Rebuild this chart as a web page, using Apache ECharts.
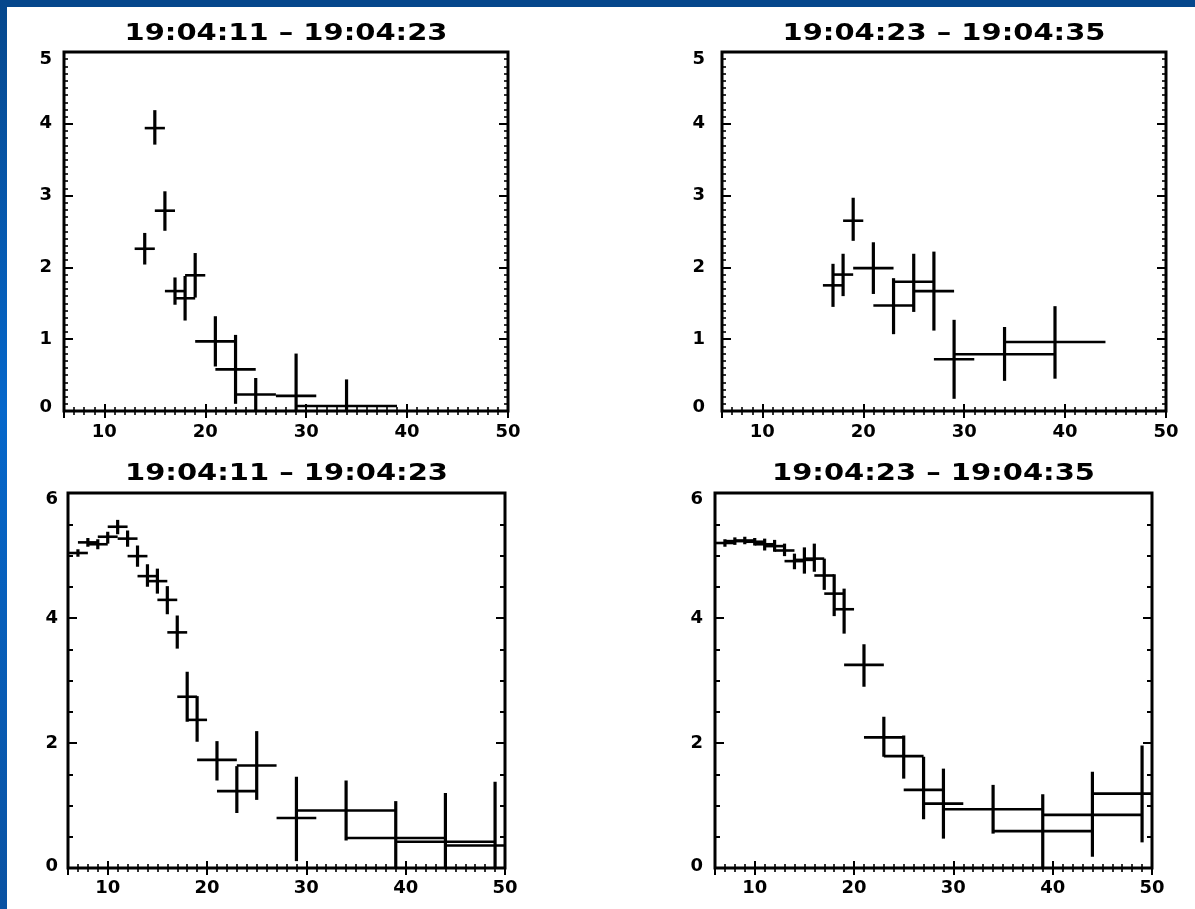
<!DOCTYPE html>
<html><head><meta charset="utf-8">
<script src="https://cdn.jsdelivr.net/npm/echarts@6/dist/echarts.min.js"></script>
<style>html,body{margin:0;padding:0;background:#fff}#c{width:1195px;height:909px}</style>
</head><body><div id="c"></div>
<script>
// ---- titles & ticks ----
const titles = ['19:04:11 – 19:04:23', '19:04:23 – 19:04:35', '19:04:11 – 19:04:23', '19:04:23 – 19:04:35'];
const xTickValues = [10, 20, 30, 40, 50];
const xRange = [6, 50];
const yRangeTop = [0, 5];
const yRangeBottom = [0, 6];

// ---- panel 1 (top left) ----
const p1X   = [14, 15, 16, 17, 18, 19, 21, 23, 25, 29, 34];
const p1Y   = [2.26, 3.94, 2.79, 1.67, 1.57, 1.89, 0.97, 0.58, 0.23, 0.21, 0.07];
const p1XLo = [13, 14, 15, 16, 17, 18, 19, 21, 23, 27, 29];
const p1XHi = [15, 16, 17, 18, 19, 20, 23, 25, 27, 31, 39];
const p1YLo = [2.04, 3.71, 2.51, 1.48, 1.26, 1.58, 0.62, 0.10, 0.00, -0.38, -0.30];
const p1YHi = [2.48, 4.19, 3.06, 1.86, 1.88, 2.20, 1.32, 1.06, 0.46, 0.80, 0.44];

// ---- panel 2 (top right) ----
const p2X   = [17, 18, 19, 21, 23, 25, 27, 29, 34, 39];
const p2Y   = [1.75, 1.90, 2.65, 1.99, 1.47, 1.80, 1.67, 0.72, 0.79, 0.96];
const p2XLo = [16, 17, 18, 19, 21, 23, 25, 27, 29, 34];
const p2XHi = [18, 19, 20, 23, 25, 27, 29, 31, 39, 44];
const p2YLo = [1.45, 1.60, 2.37, 1.63, 1.07, 1.38, 1.12, 0.17, 0.42, 0.45];
const p2YHi = [2.05, 2.19, 2.97, 2.35, 1.85, 2.19, 2.22, 1.27, 1.17, 1.46];

// ---- panel 3 (bottom left) ----
const p3X   = [7, 8, 9, 10, 11, 12, 13, 14, 15, 16, 17, 18, 19, 21, 23, 25, 29, 34, 39, 44, 49];
const p3Y   = [5.04, 5.21, 5.18, 5.30, 5.46, 5.27, 4.99, 4.67, 4.59, 4.29, 3.77, 2.74, 2.37, 1.73, 1.23, 1.64, 0.80, 0.92, 0.48, 0.42, 0.36];
const p3XLo = [6, 7, 8, 9, 10, 11, 12, 13, 14, 15, 16, 17, 18, 19, 21, 23, 27, 29, 34, 39, 44];
const p3XHi = [8, 9, 10, 11, 12, 13, 14, 15, 16, 17, 18, 19, 20, 23, 25, 27, 31, 39, 44, 49, 54];
const p3YLo = [4.98, 5.14, 5.10, 5.19, 5.34, 5.14, 4.82, 4.50, 4.39, 4.06, 3.51, 2.34, 2.02, 1.40, 0.88, 1.09, 0.11, 0.44, -0.11, -0.36, -0.66];
const p3YHi = [5.10, 5.28, 5.26, 5.38, 5.57, 5.40, 5.16, 4.86, 4.79, 4.51, 4.04, 3.14, 2.75, 2.03, 1.63, 2.19, 1.46, 1.40, 1.07, 1.20, 1.38];

// ---- panel 4 (bottom right) ----
const p4X   = [7, 8, 9, 10, 11, 12, 13, 14, 15, 16, 17, 18, 19, 21, 23, 25, 27, 29, 34, 39, 44, 49];
const p4Y   = [5.20, 5.23, 5.24, 5.22, 5.18, 5.15, 5.08, 4.91, 4.93, 4.95, 4.68, 4.39, 4.14, 3.25, 2.09, 1.79, 1.25, 1.03, 0.94, 0.59, 0.85, 1.19];
const p4XLo = [6, 7, 8, 9, 10, 11, 12, 13, 14, 15, 16, 17, 18, 19, 21, 23, 25, 27, 29, 34, 39, 44];
const p4XHi = [8, 9, 10, 11, 12, 13, 14, 15, 16, 17, 18, 19, 20, 23, 25, 27, 29, 31, 39, 44, 49, 54];
const p4YLo = [5.14, 5.17, 5.18, 5.16, 5.08, 5.06, 4.99, 4.78, 4.71, 4.74, 4.45, 4.03, 3.75, 2.90, 1.78, 1.43, 0.78, 0.47, 0.55, 0.00, 0.18, 0.41];
const p4YHi = [5.26, 5.29, 5.30, 5.28, 5.27, 5.25, 5.19, 5.03, 5.13, 5.19, 4.95, 4.70, 4.47, 3.58, 2.42, 2.12, 1.78, 1.59, 1.33, 1.18, 1.54, 1.96];

const panels = [
  {X: p1X, Y: p1Y, XLo: p1XLo, XHi: p1XHi, YLo: p1YLo, YHi: p1YHi},
  {X: p2X, Y: p2Y, XLo: p2XLo, XHi: p2XHi, YLo: p2YLo, YHi: p2YHi},
  {X: p3X, Y: p3Y, XLo: p3XLo, XHi: p3XHi, YLo: p3YLo, YHi: p3YHi},
  {X: p4X, Y: p4Y, XLo: p4XLo, XHi: p4XHi, YLo: p4YLo, YHi: p4YHi}
];

// layout (pixels)
const gridBoxes = [
  {left: 64, top: 52, width: 444, height: 359},
  {left: 722, top: 52, width: 444, height: 359},
  {left: 68, top: 493, width: 437, height: 375},
  {left: 715, top: 493, width: 437, height: 375}
];
const yLabelMargins = [12, 17, 10, 12];
const xLabelMargins = [12, 12, 11, 11];

const FONT = 'DejaVu Sans';
const labelFont = {color: '#000', fontFamily: FONT, fontWeight: 'bold', fontSize: 18};

const grids = [], xAxes = [], yAxes = [], series = [];
gridBoxes.forEach((g, i) => {
  const isTop = i < 2;
  const yr = isTop ? yRangeTop : yRangeBottom;
  grids.push(Object.assign({show: true, borderColor: '#000', borderWidth: 3, backgroundColor: 'transparent'}, g));
  const xCommon = {
    type: 'value', gridIndex: i, min: xRange[0], max: xRange[1], splitNumber: 5,
    axisLine: {show: false}, splitLine: {show: false},
    axisTick: {show: true, inside: true, length: 7, lineStyle: {color: '#000', width: 2}},
    minorTick: {show: true, splitNumber: 10, length: 4, lineStyle: {color: '#000', width: 1.6}}
  };
  xAxes.push(Object.assign({}, xCommon, {
    position: 'bottom',
    axisLabel: Object.assign({show: true, margin: xLabelMargins[i],
      formatter: v => xTickValues.includes(v) ? String(v) : ''}, labelFont)
  }));
  xAxes.push(Object.assign({}, xCommon, {position: 'top', axisLabel: {show: false}}));
  const yCommon = {
    type: 'value', gridIndex: i, min: yr[0], max: yr[1], splitNumber: isTop ? 5 : 3,
    axisLine: {show: false}, splitLine: {show: false},
    axisTick: {show: true, inside: true, length: 9, lineStyle: {color: '#000', width: 2}},
    minorTick: {show: true, splitNumber: isTop ? 10 : 4, length: isTop ? 4 : 5, lineStyle: {color: '#000', width: isTop ? 1.6 : 2}}
  };
  const padTop = isTop ? 14 : 12, padBot = isTop ? 7 : 4;
  yAxes.push(Object.assign({}, yCommon, {
    position: 'left',
    axisLabel: Object.assign({show: true, margin: yLabelMargins[i],
      formatter: v => v === yr[1] ? '{t|' + v + '}' : (v === yr[0] ? '{b|' + v + '}' : String(v)),
      rich: {
        t: Object.assign({padding: [padTop, 0, 0, 0]}, labelFont),
        b: Object.assign({padding: [0, 0, padBot, 0]}, labelFont)
      }}, labelFont)
  }));
  yAxes.push(Object.assign({}, yCommon, {position: 'right', axisLabel: {show: false}}));

  const p = panels[i];
  series.push({
    type: 'custom', xAxisIndex: 2 * i, yAxisIndex: 2 * i, clip: true, silent: true,
    data: p.X.map((x, k) => [x, p.Y[k], p.XLo[k], p.XHi[k], p.YLo[k], p.YHi[k]]),
    encode: {x: 0, y: 1},
    renderItem: (params, api) => {
      const x = api.value(0), y = api.value(1);
      const a = api.coord([api.value(2), y]);
      const b = api.coord([api.value(3), y]);
      const c = api.coord([x, api.value(4)]);
      const d = api.coord([x, api.value(5)]);
      return {type: 'group', children: [
        {type: 'line', shape: {x1: a[0], y1: a[1], x2: b[0], y2: b[1]}, style: {stroke: '#000', lineWidth: 2.6}},
        {type: 'line', shape: {x1: c[0], y1: c[1], x2: d[0], y2: d[1]}, style: {stroke: '#000', lineWidth: 3.2}}
      ]};
    }
  });
});

const titleY = [34, 34, 474, 474];
const graphics = [
  {type: 'rect', left: 0, top: 0, shape: {width: 1195, height: 7}, style: {fill: '#06478c'}, z: 10},
  {type: 'rect', left: 0, top: 0, shape: {width: 7, height: 909}, z: 10,
    style: {fill: {type: 'linear', x: 0, y: 0, x2: 0, y2: 1, colorStops: [
      {offset: 0, color: '#06478c'}, {offset: 0.45, color: '#0567cb'}, {offset: 1, color: '#0a52a2'}]}}}
];
gridBoxes.forEach((g, i) => {
  graphics.push({
    type: 'text', x: g.left + g.width / 2, y: titleY[i], scaleX: 1.26, z: 10,
    style: {text: titles[i], font: 'bold 23px "DejaVu Sans"', fill: '#000', align: 'center', verticalAlign: 'middle'}
  });
});

const chart = echarts.init(document.getElementById('c'), null, {renderer: 'canvas'});
chart.setOption({
  animation: false,
  backgroundColor: '#fff',
  grid: grids, xAxis: xAxes, yAxis: yAxes, series: series, graphic: graphics
});
</script></body></html>
